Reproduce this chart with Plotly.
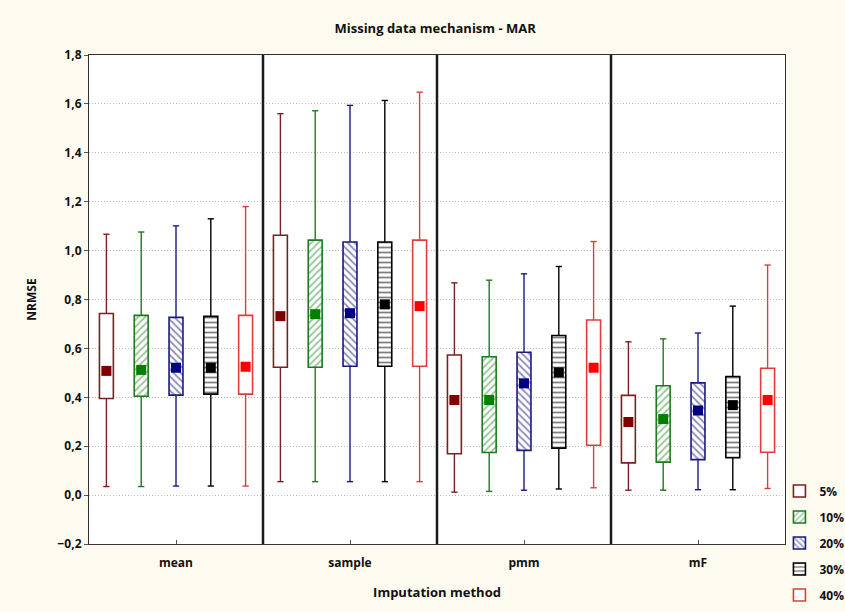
import plotly.graph_objects as go

methods = ["mean", "sample", "pmm", "mF"]
levels = ["5%", "10%", "20%", "30%", "40%"]

w_max = {
    "5%": [1.067, 1.560, 0.868, 0.627],
    "10%": [1.076, 1.572, 0.879, 0.639],
    "20%": [1.101, 1.594, 0.905, 0.663],
    "30%": [1.130, 1.614, 0.935, 0.773],
    "40%": [1.180, 1.648, 1.037, 0.941],
}
q3 = {
    "5%": [0.743, 1.063, 0.573, 0.408],
    "10%": [0.735, 1.043, 0.566, 0.447],
    "20%": [0.727, 1.035, 0.584, 0.459],
    "30%": [0.731, 1.035, 0.653, 0.485],
    "40%": [0.735, 1.043, 0.716, 0.519],
}
center = {
    "5%": [0.508, 0.732, 0.389, 0.299],
    "10%": [0.512, 0.740, 0.389, 0.311],
    "20%": [0.521, 0.744, 0.457, 0.346],
    "30%": [0.521, 0.780, 0.502, 0.368],
    "40%": [0.525, 0.773, 0.521, 0.389],
}
q1 = {
    "5%": [0.395, 0.523, 0.169, 0.132],
    "10%": [0.404, 0.523, 0.174, 0.135],
    "20%": [0.409, 0.527, 0.183, 0.145],
    "30%": [0.413, 0.527, 0.192, 0.153],
    "40%": [0.413, 0.527, 0.204, 0.175],
}
w_min = {
    "5%": [0.035, 0.055, 0.012, 0.020],
    "10%": [0.035, 0.055, 0.015, 0.020],
    "20%": [0.037, 0.055, 0.020, 0.022],
    "30%": [0.037, 0.055, 0.025, 0.022],
    "40%": [0.037, 0.055, 0.030, 0.027],
}

styles = {
    "5%": dict(line="#7a2020", marker="#7f0000", shape="", fg="#7f0000"),
    "10%": dict(line="#1f7a1f", marker="#008000", shape="/", fg="#2e8b2e"),
    "20%": dict(line="#1a1a80", marker="#000080", shape="\\", fg="#1a1a80"),
    "30%": dict(line="#000000", marker="#000000", shape="-", fg="#000000"),
    "40%": dict(line="#e03c3c", marker="#ff0000", shape="", fg="#ff0000"),
}

FONT = "Open Sans"
BG = "#fdfaf0"
offset_step = 0.2
box_w = 0.08
cap = 0.018

fig = go.Figure()

for i, lv in enumerate(levels):
    st = styles[lv]
    xs = [m + (i - 2) * offset_step for m in range(len(methods))]
    pattern = dict(shape=st["shape"], fgcolor=st["fg"], bgcolor="white",
                   size=5, solidity=0.35) if st["shape"] else dict(shape="")
    fig.add_trace(go.Bar(
        x=xs, y=[a - b for a, b in zip(q3[lv], q1[lv])], base=q1[lv],
        width=box_w, name=lv, legendgroup=lv,
        marker=dict(color="white", line=dict(color=st["line"], width=1.6),
                    pattern=pattern),
        hoverinfo="skip",
    ))
    wx, wy = [], []
    for x, hi, top, bot, lo in zip(xs, w_max[lv], q3[lv], q1[lv], w_min[lv]):
        wx += [x, x, None, x, x, None, x - cap, x + cap, None, x - cap, x + cap, None]
        wy += [top, hi, None, bot, lo, None, hi, hi, None, lo, lo, None]
    fig.add_trace(go.Scatter(
        x=wx, y=wy, mode="lines", line=dict(color=st["line"], width=1.4),
        showlegend=False, legendgroup=lv, hoverinfo="skip",
    ))
    fig.add_trace(go.Scatter(
        x=xs, y=center[lv], mode="markers",
        marker=dict(symbol="square", size=10, color=st["marker"]),
        showlegend=False, legendgroup=lv,
    ))

for sep in [0.5, 1.5, 2.5]:
    fig.add_shape(type="line", x0=sep, x1=sep, y0=0, y1=1, xref="x", yref="paper",
                  line=dict(color="#1a1a1a", width=2.5))

fig.update_layout(
    width=845, height=612,
    paper_bgcolor=BG, plot_bgcolor="white",
    margin=dict(l=89, r=60, t=55, b=68, autoexpand=False),
    separators=", ",
    barmode="overlay",
    font=dict(family=FONT, color="#111111", size=12),
    title=dict(text="<b>Missing data mechanism - MAR</b>", x=0.515, xanchor="center",
               y=0.954, yanchor="middle", font=dict(size=13, family=FONT)),
    showlegend=True,
    legend=dict(x=0.992, xanchor="left", y=0.138, yanchor="top",
                bgcolor="rgba(0,0,0,0)",
                font=dict(size=12, family=FONT, weight="bold"),
                traceorder="grouped", tracegroupgap=7,
                itemwidth=30),
    xaxis=dict(range=[-0.5, 3.5], tickvals=list(range(len(methods))),
               ticktext=["<b>%s</b>" % m for m in methods],
               showgrid=False, zeroline=False, ticks="inside", ticklen=4,
               tickcolor="#555", showline=True, linecolor="#333", linewidth=1.2,
               mirror=True, ticklabelstandoff=7,
               title=dict(text="<b>Imputation method</b>", standoff=18,
                          font=dict(size=13))),
    yaxis=dict(range=[-0.2, 1.8], dtick=0.2, tick0=-0.2, tickformat=".1f",
               showgrid=True, gridcolor="#bcbcbc", griddash="1px,2px", gridwidth=1,
               zeroline=False, ticks="outside", ticklen=4, tickcolor="#555",
               showline=True, linecolor="#333", linewidth=1.2, mirror=True,
               tickfont=dict(size=12, family=FONT, weight="bold"),
               title=dict(text="<b>NRMSE</b>", standoff=18, font=dict(size=12))),
)

fig.write_html("out.html")
